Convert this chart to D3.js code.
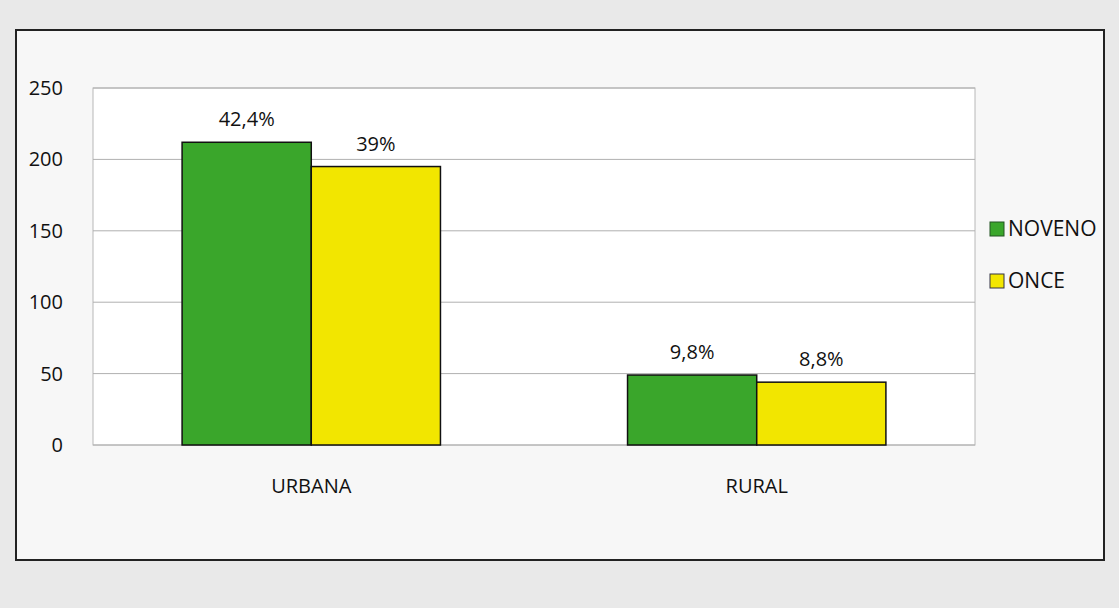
<!DOCTYPE html>
<html><head><meta charset="utf-8">
<script src="https://cdn.jsdelivr.net/npm/d3@7"></script>
<style>body{margin:0;background:#ebebeb;}svg{display:block;}</style>
</head><body>
<svg id="c" width="1119" height="608"></svg>
<script>
const categories = ["URBANA", "RURAL"];
const seriesNames = ["NOVENO", "ONCE"];
const noveno = [212, 49];
const once = [195, 44];
const novenoLabels = ["42,4%", "9,8%"];
const onceLabels = ["39%", "8,8%"];
const yTicks = [0, 50, 100, 150, 200, 250];
const colors = ["#3aa62b", "#f2e600"];

const svg = d3.select("#c");
const font = "'Open Sans', 'Liberation Sans', sans-serif";
// frame
svg.append("rect").attr("x",0).attr("y",0).attr("width",1119).attr("height",608).attr("fill","#e9e9e9");
svg.append("rect").attr("x",16).attr("y",30).attr("width",1088).attr("height",530)
  .attr("fill","#f7f7f7").attr("stroke","#222").attr("stroke-width",2);

const m = {left:93, right:975, top:88, bottom:445};
const x0 = d3.scaleBand().domain(categories).range([m.left, m.right]).paddingInner(0.42).paddingOuter(0.2);
const x1 = d3.scaleBand().domain(seriesNames).range([0, x0.bandwidth()]);
const y = d3.scaleLinear().domain([0,250]).range([m.bottom, m.top]);

// plot area
svg.append("rect").attr("x",m.left).attr("y",m.top).attr("width",m.right-m.left).attr("height",m.bottom-m.top)
  .attr("fill","#ffffff").attr("stroke","#b8b8b8");
svg.append("g").selectAll("line").data(yTicks).join("line")
  .attr("x1",m.left).attr("x2",m.right).attr("y1",d=>y(d)).attr("y2",d=>y(d))
  .attr("stroke","#b0b0b0").attr("stroke-width",1);

const yAxis = svg.append("g").attr("transform",`translate(${m.left},0)`)
  .call(d3.axisLeft(y).tickValues(yTicks).tickSize(0).tickPadding(30));
yAxis.select(".domain").remove();
yAxis.selectAll("text").attr("font-family",font).attr("font-size",20).attr("fill","#111");

const data = [noveno, once];
const labels = [novenoLabels, onceLabels];
seriesNames.forEach((s, si) => {
  const g = svg.append("g");
  g.selectAll("rect").data(categories).join("rect")
    .attr("x", c => x0(c) + x1(s))
    .attr("y", (c,i) => y(data[si][i]))
    .attr("width", x1.bandwidth())
    .attr("height", (c,i) => y(0) - y(data[si][i]))
    .attr("fill", colors[si]).attr("stroke","#111").attr("stroke-width",1.5);
  g.selectAll("text").data(categories).join("text")
    .attr("x", c => x0(c) + x1(s) + x1.bandwidth()/2)
    .attr("y", (c,i) => y(data[si][i]) - 16)
    .attr("text-anchor","middle").attr("font-family",font).attr("font-size",20).attr("fill","#111")
    .text((c,i) => labels[si][i]);
});

const xAxis = svg.append("g").attr("transform",`translate(0,${m.bottom})`)
  .call(d3.axisBottom(x0).tickSize(0).tickPadding(34));
xAxis.select(".domain").remove();
xAxis.selectAll("text").attr("font-family",font).attr("font-size",20).attr("fill","#111");

// legend
const lg = svg.append("g").attr("transform","translate(990,222)");
seriesNames.forEach((s, i) => {
  lg.append("rect").attr("x",0).attr("y",i*52).attr("width",14).attr("height",14)
    .attr("fill",colors[i]).attr("stroke", i ? "#334" : "#225522").attr("stroke-width",1);
  lg.append("text").attr("x",18).attr("y",i*52+14).attr("font-family",font).attr("font-size",21)
    .attr("fill","#111").text(s);
});
</script>
</body></html>
